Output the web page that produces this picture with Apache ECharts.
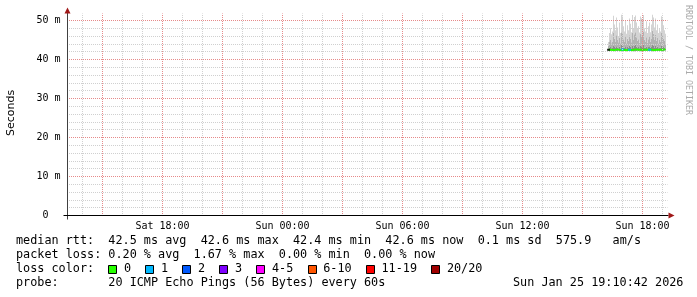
<!DOCTYPE html>
<html><head><meta charset="utf-8">
<script src="https://cdn.jsdelivr.net/npm/echarts@6/dist/echarts.min.js"></script>
<style>html,body{margin:0;padding:0;background:#fff}#c{width:697px;height:297px}</style>
</head><body><div id="c"></div>
<script>
// ---- data (time in hours since Sat 00:00) ----
const startHour = 40.3;    // Sun 16:18, first column with data
const stepHours = 0.05;    // 3 minutes per column
const viewStart = 13.25;   // Sat 13:15
const viewHours = 30;

const medianRtt = [42.5,42.4,42.5,42.5,42.6,42.5,42.4,42.5,42.5,42.6,
 42.5,42.5,42.4,42.5,42.6,42.5,42.5,42.5,42.4,42.5,
 42.6,42.5,42.5,42.5,42.4,42.5,42.5,42.6,42.5,42.5,
 42.5,42.4,42.5,42.5,42.5,42.6,42.5,42.5,42.4,42.5,
 42.5,42.5,42.6,42.5,42.5,42.4,42.5,42.5,42.5,42.6,
 42.5,42.5,42.4,42.5,42.5,42.5,42.6,42.6];
const lossCount = [null,0,0,0,0,0,0,0,0,0,
 0,0,0,0,1,0,0,0,0,0,
 0,1,0,0,0,0,0,0,0,0,
 0,0,0,0,0,0,0,0,0,0,
 0,1,0,0,0,0,0,0,0,0,
 0,0,0,0,0,0,0,0];
const smokeMin = [42.3,42.2,42.2,42.3,42.2,42.1,42.2,42.3,42.2,42.2,
 42.3,42.2,42.3,42.1,42.2,42.2,42.3,42.2,42.3,42.2,
 42.2,42.1,42.2,42.3,42.2,42.2,42.1,42.2,42.2,42.3,
 42.2,42.3,42.1,42.2,42.2,42.1,42.2,42.3,42.2,42.3,
 42.2,42.2,42.3,42.2,42.1,42.2,42.2,42.2,42.3,42.2,
 42.3,42.2,42.3,42.1,42.2,42.2,42.3,42.3];
const smokeQ1 = [42.8,43.0,43.2,42.9,43.1,43.6,43.2,43.0,43.4,43.1,
 42.9,43.3,42.9,43.7,43.5,43.1,43.0,43.4,42.9,43.2,
 43.0,43.5,43.3,42.9,43.6,43.1,43.5,43.7,43.3,43.0,
 43.2,42.9,43.6,43.4,43.4,43.8,43.1,43.0,43.3,42.9,
 43.2,43.4,43.0,43.2,43.8,43.5,43.1,43.5,43.0,43.3,
 42.9,43.1,43.0,43.6,43.4,43.2,43.0,42.8];
const smokeQ2 = [43.6,44.5,45.0,44.2,44.6,46.8,45.3,44.5,46.2,45.0,
 44.4,45.6,44.2,47.0,46.6,45.2,44.6,46.0,44.2,45.3,
 44.8,46.2,45.4,44.4,46.8,45.0,46.5,47.0,45.7,44.8,
 45.2,44.3,46.7,46.2,46.0,47.2,45.1,44.6,45.7,44.3,
 45.2,45.8,44.6,45.4,47.4,46.6,45.0,46.3,44.8,45.5,
 44.2,45.0,44.6,46.8,46.4,45.3,44.8,44.0];
const smokeMax = [44.5,46.8,48.0,46.5,47.2,51.2,49.0,47.5,50.8,48.2,
 46.0,49.5,46.8,51.5,51.0,48.5,47.2,50.0,46.6,48.8,
 47.5,50.5,49.2,47.0,51.4,48.0,50.9,51.3,49.5,47.8,
 48.5,46.9,51.0,50.6,50.2,51.4,48.0,47.2,49.8,46.8,
 48.5,49.5,47.0,49.0,51.5,50.8,48.2,50.5,47.5,49.0,
 46.8,48.0,47.2,51.1,50.5,48.8,47.5,46.6];

const xTickHours = [18, 24, 30, 36, 42];
const xTickLabels = ['Sat 18:00','Sun 00:00','Sun 06:00','Sun 12:00','Sun 18:00'];
const yTickValues = [0, 10, 20, 30, 40, 50];
const yTickLabels = ['0  ','10 m','20 m','30 m','40 m','50 m'];
const yMax = 51.8;

const lossLabels = ['0','1','2','3','4-5','6-10','11-19','20/20'];
const lossColors = ['#26ff00','#00b8ff','#0059ff','#7e00ff','#ff00ff','#ff5500','#ff0000','#a00000'];
const statLine1 = 'median rtt:  42.5 ms avg  42.6 ms max  42.4 ms min  42.6 ms now  0.1 ms sd  575.9   am/s';
const statLine2 = 'packet loss: 0.20 % avg  1.67 % max  0.00 % min  0.00 % now';
const statLine3 = 'loss color:';
const statLine4 = 'probe:       20 ICMP Echo Pings (56 Bytes) every 60s';
const stampText = 'Sun Jan 25 19:10:42 2026';
const sideText = 'RRDTOOL / TOBI OETIKER';
const yTitle = 'Seconds';

// ---- layout ----
const G = {left: 67.5, top: 13.5, right: 29.5, bottom: 81.5};
const W = 697, H = 297;
const mono = '"DejaVu Sans Mono", monospace';
const charW = 7.1, legendFont = 11.8;
const minorColor = '#d0d0d0', majorColor = '#e68a8a';

const times = medianRtt.map((_, i) => startHour + i * stepHours);
const smokeData = times.map((t, i) => [t, smokeMin[i], smokeQ1[i], smokeQ2[i], smokeMax[i]]);
const medData = times.map((t, i) => [t, medianRtt[i]]);
function lossClass(n) {
  if (n === null) return -1;
  if (n <= 3) return n;
  if (n <= 5) return 4;
  if (n <= 10) return 5;
  if (n <= 19) return 6;
  return 7;
}
const lossData = [];
times.forEach((t, i) => {
  const c = lossClass(lossCount[i]);
  if (c !== 0) lossData.push({value: [t, medianRtt[i]], itemStyle: {color: c < 0 ? '#000' : lossColors[c]}});
});

// grid lines: every hour (red every 3h), every 2 m (red every 10 m)
const gridMinor = [], gridMajor = [];
for (let h = Math.ceil(viewStart); h < viewStart + viewHours; h++) {
  (h % 3 === 0 ? gridMajor : gridMinor).push({xAxis: h});
}
for (let v = 2; v < yMax; v += 2) {
  (v % 10 === 0 ? gridMajor : gridMinor).push({yAxis: v});
}
const gridLineSeries = (data, color) => {
  const ls = {color, width: 1, type: [1, 1], dashOffset: 0.5};
  return {
    type: 'line', data: [], silent: true, z: 1,
    markLine: {silent: true, symbol: ['none', 'none'], label: {show: false}, animation: false,
      lineStyle: ls, emphasis: {disabled: true},
      data: data.map(d => Object.assign({lineStyle: ls}, d))}
  };
};

// ---- graphic (axes arrows, texts, legend) ----
const x0 = G.left, y0 = H - G.bottom, x1 = W - G.right;
const graphics = [
  {type: 'line', shape: {x1: x0, y1: y0 + 4, x2: x0, y2: G.top - 2}, style: {stroke: '#404040', lineWidth: 1}, z: 50},
  {type: 'line', shape: {x1: x0 - 4, y1: y0, x2: x1 + 1, y2: y0}, style: {stroke: '#000', lineWidth: 1}, z: 50},
  {type: 'polygon', shape: {points: [[x0 - 3, G.top], [x0 + 3, G.top], [x0, G.top - 6]]}, style: {fill: '#a01818'}, z: 51},
  {type: 'polygon', shape: {points: [[x1 + 1, y0 - 3], [x1 + 1, y0 + 3], [x1 + 7, y0]]}, style: {fill: '#a01818'}, z: 51},
  {type: 'text', x: 11, y: 113, rotation: Math.PI / 2, style: {text: yTitle, fontFamily: '"DejaVu Sans", sans-serif', fontSize: 11, fill: '#000', align: 'center', verticalAlign: 'middle'}},
  {type: 'text', x: 688, y: 5, rotation: -Math.PI / 2, style: {text: sideText, fontFamily: mono, fontSize: 8.3, fill: '#aaaaaa', align: 'left', verticalAlign: 'middle'}},
];
const lineY = [241, 255, 269, 283];
[statLine1, statLine2, statLine3, statLine4].forEach((s, i) => {
  graphics.push({type: 'text', x: 16, y: lineY[i], style: {text: s, fontFamily: mono, fontSize: legendFont, fill: '#000', verticalAlign: 'middle'}});
});
graphics.push({type: 'text', x: 16 + 70 * charW, y: lineY[3], style: {text: stampText, fontFamily: mono, fontSize: legendFont, fill: '#000', verticalAlign: 'middle'}});
let bx = 16 + 13 * charW;
lossLabels.forEach((lab, k) => {
  graphics.push({type: 'rect', shape: {x: Math.round(bx) + 0.5, y: 265.5, width: 8, height: 8}, style: {fill: lossColors[k], stroke: '#000', lineWidth: 1}});
  const lx = bx + 15.7;
  graphics.push({type: 'text', x: lx, y: lineY[2], style: {text: lab, fontFamily: mono, fontSize: legendFont, fill: '#000', verticalAlign: 'middle'}});
  bx = lx + (lab.length + 2) * charW;
});

const chart = echarts.init(document.getElementById('c'), null, {renderer: 'canvas'});
chart.setOption({
  animation: false,
  backgroundColor: '#fff',
  grid: {left: G.left, top: G.top, right: G.right, bottom: G.bottom, containLabel: false},
  xAxis: {
    type: 'value', min: viewStart, max: viewStart + viewHours,
    axisLine: {show: false}, axisTick: {show: false}, splitLine: {show: false},
    axisLabel: {
      customValues: xTickHours, margin: 6, fontFamily: mono, fontSize: 10, color: '#000',
      formatter: v => { const k = xTickHours.findIndex(h => Math.abs(h - v) < 1e-6); return k >= 0 ? xTickLabels[k] : ''; }
    }
  },
  yAxis: {
    type: 'value', min: 0, max: yMax,
    axisLine: {show: false}, axisTick: {show: false}, splitLine: {show: false},
    axisLabel: {
      customValues: yTickValues, margin: 7, fontFamily: mono, fontSize: 10, color: '#000', align: 'right',
      formatter: v => { const k = yTickValues.findIndex(h => Math.abs(h - v) < 1e-6); return k >= 0 ? yTickLabels[k] : ''; }
    }
  },
  series: [
    gridLineSeries(gridMinor, minorColor),
    gridLineSeries(gridMajor, majorColor),
    {
      type: 'custom', data: smokeData, silent: true, clip: true, z: 2,
      encode: {x: 0, y: [1, 2, 3, 4]},
      renderItem(params, api) {
        const t = api.value(0);
        const w = Math.max(1, Math.round(api.size([stepHours, 0])[0]));
        const cx = api.coord([t, 0])[0];
        const xs = Math.round(cx - w / 2);
        const ys = [1, 2, 3, 4].map(d => api.coord([t, api.value(d)])[1]);
        const cols = ['#8c8c8c', '#b2b2b2', '#d4d4d4'];
        const children = [];
        for (let k = 0; k < 3; k++) {
          children.push({type: 'rect', shape: {x: xs, y: ys[k + 1], width: w, height: ys[k] - ys[k + 1]}, style: {fill: cols[k]}});
        }
        return {type: 'group', children};
      }
    },
    {type: 'line', data: medData, symbol: 'none', silent: true, z: 3,
     lineStyle: {color: lossColors[0], width: 2}},
    {type: 'scatter', data: lossData, symbol: 'rect', symbolSize: [3, 2], silent: true, z: 4}
  ],
  graphic: graphics
});
</script></body></html>
